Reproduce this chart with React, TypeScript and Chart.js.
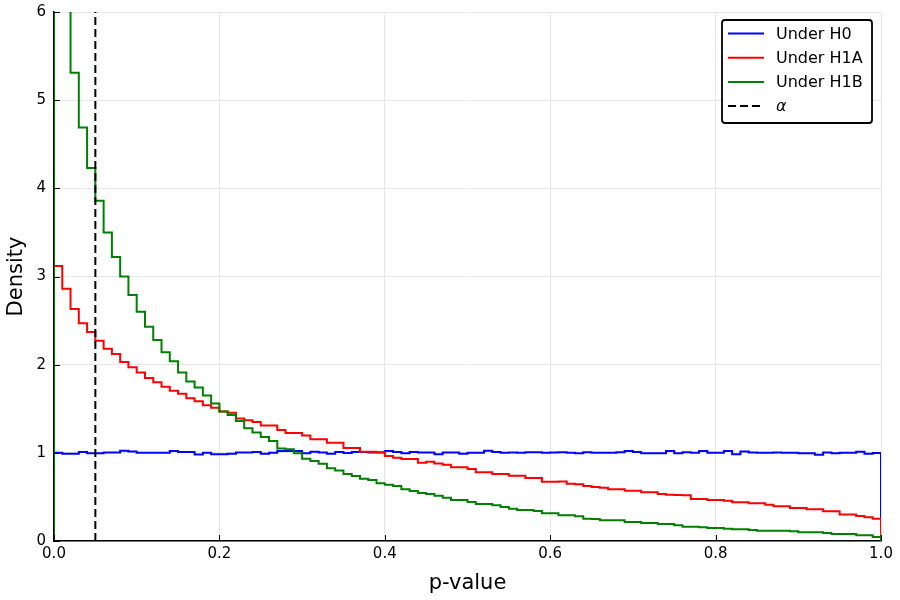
import React, { useEffect, useRef } from "react";
import { Chart, registerables } from "chart.js";

Chart.register(...registerables);

// ---- Data (histogram densities, 100 bins of width 0.01 over [0, 1]) ----
const binWidth = 0.01;

const underH0 = [
  1.0, 0.99, 0.99, 1.01, 0.995, 0.995, 1.005, 1.005, 1.025, 1.015,
  1.0, 1.0, 1.0, 1.0, 1.02, 1.01, 1.01, 0.98, 1.0, 0.985,
  0.985, 0.99, 1.005, 1.005, 1.01, 0.99, 1.0, 1.02, 1.02, 1.02,
  0.996, 1.013, 1.003, 0.99, 1.01, 0.998, 1.01, 1.01, 1.005, 1.003,
  1.022, 1.01, 0.995, 1.01, 1.005, 1.005, 0.983, 1.003, 1.005, 0.99,
  1.0, 1.0, 1.024, 1.01, 1.0, 1.003, 1.0, 1.006, 1.006, 1.0,
  1.003, 1.006, 1.0, 0.994, 1.006, 1.0, 1.0, 1.0, 1.006, 1.02,
  1.01, 0.995, 0.994, 0.994, 1.02, 0.995, 1.006, 1.0, 1.02, 1.0,
  1.0, 1.02, 0.985, 1.015, 1.005, 1.0, 1.0, 1.003, 1.0, 1.0,
  0.995, 0.995, 0.979, 1.005, 0.994, 1.0, 1.0, 1.013, 0.99, 0.998,
];

const underH1A = [
  3.12, 2.86, 2.63, 2.47, 2.37, 2.27, 2.18, 2.12, 2.03, 1.97,
  1.91, 1.85, 1.8, 1.75, 1.705, 1.67, 1.62, 1.585, 1.54, 1.51,
  1.47, 1.455, 1.39, 1.37, 1.35, 1.31, 1.31, 1.26, 1.225, 1.225,
  1.198, 1.153, 1.153, 1.115, 1.115, 1.055, 1.055, 1.013, 1.013, 1.006,
  0.964, 0.945, 0.93, 0.93, 0.888, 0.9, 0.88, 0.866, 0.836, 0.836,
  0.817, 0.779, 0.779, 0.76, 0.76, 0.741, 0.741, 0.715, 0.715, 0.673,
  0.673, 0.675, 0.648, 0.645, 0.625, 0.612, 0.605, 0.586, 0.586, 0.571,
  0.571, 0.552, 0.552, 0.533, 0.524, 0.522, 0.518, 0.476, 0.476, 0.465,
  0.465, 0.457, 0.439, 0.439, 0.427, 0.427, 0.412, 0.393, 0.393, 0.374,
  0.374, 0.36, 0.36, 0.337, 0.337, 0.3, 0.3, 0.283, 0.268, 0.253,
];

const underH1B = [
  9.0, 6.4, 5.31, 4.69, 4.23, 3.86, 3.5, 3.22, 3.0, 2.79,
  2.6, 2.43, 2.28, 2.14, 2.04, 1.91, 1.81, 1.74, 1.65, 1.56,
  1.47, 1.43, 1.36, 1.28, 1.23, 1.18, 1.134, 1.05, 1.04, 0.994,
  0.934, 0.907, 0.877, 0.824, 0.8, 0.76, 0.737, 0.707, 0.692, 0.654,
  0.639, 0.624, 0.586, 0.567, 0.544, 0.533, 0.514, 0.49, 0.465, 0.465,
  0.442, 0.42, 0.42, 0.405, 0.386, 0.367, 0.352, 0.352, 0.34, 0.314,
  0.314, 0.291, 0.291, 0.28, 0.253, 0.25, 0.234, 0.234, 0.234, 0.215,
  0.215, 0.204, 0.204, 0.193, 0.193, 0.178, 0.163, 0.163, 0.155, 0.147,
  0.147, 0.14, 0.132, 0.132, 0.125, 0.117, 0.117, 0.117, 0.117, 0.11,
  0.098, 0.098, 0.098, 0.09, 0.079, 0.079, 0.079, 0.064, 0.064, 0.045,
];

const alphaLevel = 0.05;
const xTickValues = [0, 0.2, 0.4, 0.6, 0.8, 1.0];
const yTickValues = [0, 1, 2, 3, 4, 5, 6];
const seriesLabels = ["Under H0", "Under H1A", "Under H1B", "α"];
const seriesColors = ["#0000ff", "#ff0000", "#008000", "#000000"];

const FONT = "'DejaVu Sans', sans-serif";

function toSteps(values: number[]) {
  const pts: { x: number; y: number }[] = [{ x: 0, y: 0 }];
  values.forEach((v, i) => pts.push({ x: i * binWidth, y: v }));
  const end = values.length * binWidth;
  pts.push({ x: end, y: values[values.length - 1] });
  pts.push({ x: end, y: 0 });
  return pts;
}

const innerTicksPlugin = {
  id: "innerTicks",
  afterDatasetsDraw(chart: any) {
    const { ctx, chartArea, scales } = chart;
    ctx.save();
    ctx.strokeStyle = "#000";
    ctx.lineWidth = 1;
    ctx.beginPath();
    xTickValues.forEach((v) => {
      const px = Math.round(scales.x.getPixelForValue(v)) + 0.5;
      ctx.moveTo(px, chartArea.bottom);
      ctx.lineTo(px, chartArea.bottom - 6);
    });
    yTickValues.forEach((v) => {
      const py = Math.round(scales.y.getPixelForValue(v)) + 0.5;
      ctx.moveTo(chartArea.left, py);
      ctx.lineTo(chartArea.left + 6, py);
    });
    ctx.stroke();
    ctx.restore();
  },
};

const legendPlugin = {
  id: "customLegend",
  afterDraw(chart: any) {
    const { ctx } = chart;
    const bx = 722, by = 20, bw = 150, bh = 103;
    ctx.save();
    ctx.fillStyle = "#fff";
    ctx.strokeStyle = "#000";
    ctx.lineWidth = 1.8;
    ctx.beginPath();
    if (ctx.roundRect) ctx.roundRect(bx, by, bw, bh, 3);
    else ctx.rect(bx, by, bw, bh);
    ctx.fill();
    ctx.stroke();
    seriesLabels.forEach((label, i) => {
      const y = 33.5 + i * 24.2;
      ctx.beginPath();
      ctx.strokeStyle = seriesColors[i];
      ctx.lineWidth = 2;
      ctx.setLineDash(i === 3 ? [8, 4] : []);
      ctx.moveTo(728, y);
      ctx.lineTo(764, y);
      ctx.stroke();
      ctx.setLineDash([]);
      ctx.fillStyle = "#000";
      ctx.textBaseline = "middle";
      ctx.textAlign = "left";
      ctx.font = (i === 3 ? "italic " : "") + "16px " + FONT;
      ctx.fillText(label, 776, y + 1);
    });
    ctx.restore();
  },
};

export default function App() {
  const canvasRef = useRef<HTMLCanvasElement | null>(null);

  useEffect(() => {
    document.body.style.margin = "0";
    const canvas = canvasRef.current;
    if (!canvas) return;
    const series = [underH0, underH1A, underH1B];
    const datasets: any[] = series.map((vals, i) => ({
      label: seriesLabels[i],
      data: toSteps(vals),
      borderColor: seriesColors[i],
      backgroundColor: seriesColors[i],
      borderWidth: 2,
      pointRadius: 0,
      stepped: true,
      fill: false,
      order: 3 - i,
    }));
    datasets.push({
      label: seriesLabels[3],
      data: [
        { x: alphaLevel, y: 0 },
        { x: alphaLevel, y: yTickValues[yTickValues.length - 1] },
      ],
      borderColor: "#000",
      borderWidth: 2,
      borderDash: [8, 4],
      pointRadius: 0,
      fill: false,
      order: 0,
    });

    const chart = new Chart(canvas, {
      type: "line",
      data: { datasets },
      options: {
        responsive: false,
        animation: false,
        layout: { padding: { top: 12, right: 19, left: 0, bottom: 0 } },
        plugins: {
          legend: { display: false },
          tooltip: { enabled: false },
        },
        scales: {
          x: {
            type: "linear",
            min: 0,
            max: 1,
            afterBuildTicks: (scale: any) => {
              scale.ticks = xTickValues.map((v) => ({ value: v }));
            },
            afterFit: (scale: any) => {
              scale.height = 59;
              scale.paddingLeft = 0;
              scale.paddingRight = 0;
            },
            ticks: {
              callback: (v: any) => Number(v).toFixed(1),
              font: { family: FONT, size: 15 },
              color: "#000",
              padding: 4,
              maxRotation: 0,
            },
            grid: { color: "#e6e6e6", lineWidth: 1, drawTicks: false },
            border: { display: true, color: "#000", width: 1.5 },
            title: {
              display: true,
              text: "p-value",
              font: { family: FONT, size: 21 },
              color: "#000",
              padding: { top: 0, bottom: 4 },
            },
          },
          y: {
            type: "linear",
            min: 0,
            max: 6,
            afterBuildTicks: (scale: any) => {
              scale.ticks = yTickValues.map((v) => ({ value: v }));
            },
            afterFit: (scale: any) => {
              scale.width = 54;
              scale.paddingTop = 0;
              scale.paddingBottom = 0;
            },
            ticks: {
              callback: (v: any) => String(v),
              font: { family: FONT, size: 15 },
              color: "#000",
              padding: 8,
            },
            grid: { color: "#e6e6e6", lineWidth: 1, drawTicks: false },
            border: { display: true, color: "#000", width: 1.5 },
            title: {
              display: true,
              text: "Density",
              font: { family: FONT, size: 21 },
              color: "#000",
              padding: { top: 4, bottom: 0 },
            },
          },
        },
      } as any,
      plugins: [innerTicksPlugin, legendPlugin],
    });
    return () => chart.destroy();
  }, []);

  return (
    <div style={{ width: 900, height: 600, position: "relative" }}>
      <canvas ref={canvasRef} width={900} height={600} style={{ display: "block" }} />
    </div>
  );
}
